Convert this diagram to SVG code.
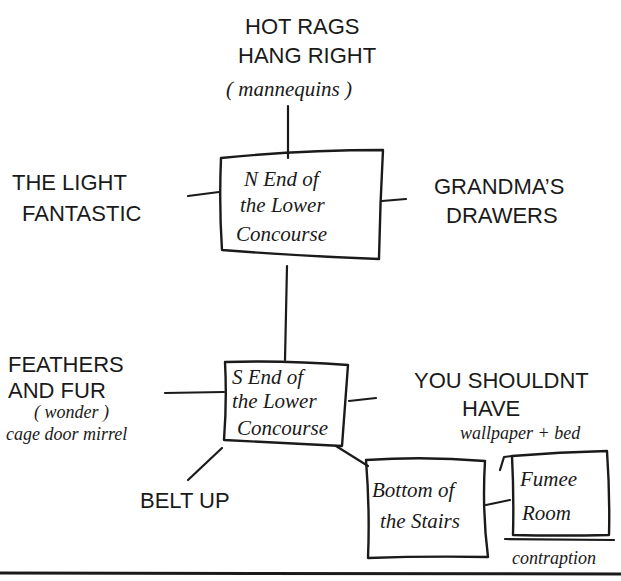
<svg xmlns="http://www.w3.org/2000/svg" width="621" height="581" viewBox="0 0 621 581">
<style>
.ln{fill:none;stroke:#1a1a1a;stroke-width:2.2;stroke-linecap:round;stroke-linejoin:round}
.bx{fill:none;stroke:#1a1a1a;stroke-width:2.4;stroke-linejoin:round}
.cap{font-family:"Liberation Sans","DejaVu Sans",sans-serif;font-size:22px;fill:#1a1a1a}
.hw{font-family:"Liberation Serif","DejaVu Serif",serif;font-style:italic;font-size:21px;fill:#1a1a1a}
.sm{font-family:"Liberation Serif","DejaVu Serif",serif;font-style:italic;font-size:18px;fill:#1a1a1a}
</style>
<rect width="621" height="581" fill="#ffffff"/>
<g id="connectors">
<path class="ln" d="M288 106 L288 158"/>
<path class="ln" d="M188 196 L219 192"/>
<path class="ln" d="M382 201 L406 199"/>
<path class="ln" d="M287 266 L285 360"/>
<path class="ln" d="M165 393 L224 392"/>
<path class="ln" d="M349 401 L376 398"/>
<path class="ln" d="M222 448 L188 480"/>
<path class="ln" d="M336 446 L368 466"/>
<path class="ln" d="M486 505 L510 500"/>
</g>
<g id="hot-rags">
<text class="cap" x="245" y="34">HOT RAGS</text>
<text class="cap" x="238" y="63">HANG RIGHT</text>
<text class="hw" x="226" y="96" font-size="23">( mannequins )</text>
</g>
<g id="light-fantastic">
<text class="cap" x="12" y="190">THE LIGHT</text>
<text class="cap" x="22" y="221">FANTASTIC</text>
</g>
<g id="n-end">
<path class="bx" d="M221 158 Q300 150 383 150 Q380 205 379 259 Q300 256 222 250 Q219 205 221 158 Z"/>
<text class="hw" x="244" y="186">N End of</text>
<text class="hw" x="240" y="212">the Lower</text>
<text class="hw" x="236" y="241">Concourse</text>
</g>
<g id="grandmas-drawers">
<text class="cap" x="434" y="194">GRANDMA’S</text>
<text class="cap" x="446" y="223">DRAWERS</text>
</g>
<g id="feathers">
<text class="cap" x="8" y="372">FEATHERS</text>
<text class="cap" x="8" y="398">AND FUR</text>
<text class="sm" x="34" y="418">( wonder )</text>
<text class="sm" x="6" y="440">cage door mirrel</text>
</g>
<g id="s-end">
<path class="bx" d="M225 362 Q285 360 348 365 Q345 405 342 446 Q285 443 224 440 Q227 400 225 362 Z"/>
<text class="hw" x="232" y="384">S End of</text>
<text class="hw" x="232" y="408">the Lower</text>
<text class="hw" x="237" y="435">Concourse</text>
</g>
<g id="you-shouldnt">
<text class="cap" x="414" y="388">YOU SHOULDNT</text>
<text class="cap" x="462" y="416" font-size="20">HAVE</text>
<text class="sm" x="460" y="439">wallpaper + bed</text>
</g>
<g id="belt-up">
<text class="cap" x="140" y="508">BELT UP</text>
</g>
<g id="bottom-stairs">
<path class="bx" d="M366 460 Q425 456 485 461 Q482 510 488 557 Q425 556 368 558 Q370 510 366 460 Z"/>
<text class="hw" x="372" y="497">Bottom of</text>
<text class="hw" x="380" y="528">the Stairs</text>
</g>
<g id="fumee-room">
<path class="bx" d="M512 456 Q560 452 607 451 Q610 495 609 535 Q560 536 513 535 Q514 495 512 456 Z"/>
<path class="ln" d="M500 470 L504 457 L512 456"/>
<path class="ln" d="M505 539 L614 540"/>
<text class="hw" x="520" y="486" font-size="23">Fumee</text>
<text class="hw" x="522" y="520" font-size="23">Room</text>
<text class="sm" x="512" y="564">contraption</text>
</g>
<path d="M0 573 L621 574" fill="none" stroke="#1a1a1a" stroke-width="3"/>
</svg>
